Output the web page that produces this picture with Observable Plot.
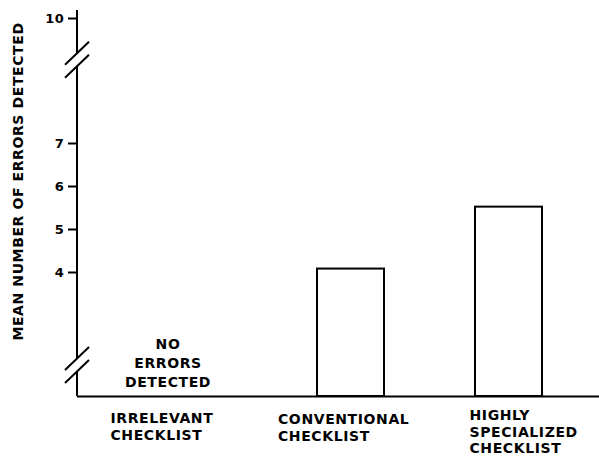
<!DOCTYPE html>
<html><head><meta charset="utf-8">
<script src="https://cdn.jsdelivr.net/npm/d3@7"></script>
<script src="https://cdn.jsdelivr.net/npm/@observablehq/plot@0.6"></script>
<style>body{margin:0;background:#fff;}</style>
</head><body><div id="chart"></div>
<script>
const categories = ["Irrelevant", "Conventional", "Highly specialized"];
const categoryLabels = ["IRRELEVANT\nCHECKLIST", "CONVENTIONAL\nCHECKLIST", "HIGHLY\nSPECIALIZED\nCHECKLIST"];
const meanErrors = [0, 4.08, 5.52];
const yTicks = [4, 5, 6, 7, 10];
const yBreakpoints = [0, 4, 7, 10];
const axisBreaks = [1, 9];
const yLabel = "MEAN NUMBER OF ERRORS DETECTED";
const noErrorsNote = "NO\nERRORS\nDETECTED";

const data = categories.map((c, i) => ({category: c, label: categoryLabels[i], value: meanErrors[i]}));

function brokenAxis(index, scales, values, dimensions) {
  const g = d3.create("svg:g").attr("stroke", "black").attr("fill", "none").attr("stroke-width", 2);
  const x0 = dimensions.marginLeft;
  const y = scales.y;
  const top = y(d3.max(yBreakpoints)) - 8;
  const bottom = y(0);
  const gap = 6.5;
  const bs = axisBreaks.map(v => y(v)).sort((a, b) => a - b);
  let start = top;
  const segs = [];
  for (const b of bs) { segs.push([start, b - gap]); start = b + gap; }
  segs.push([start, bottom]);
  for (const [a, b] of segs) g.append("line").attr("x1", x0).attr("x2", x0).attr("y1", a).attr("y2", b);
  for (const b of bs) for (const o of [-gap, gap]) {
    g.append("line").attr("x1", x0 - 12).attr("y1", b + o + 11.5).attr("x2", x0 + 12).attr("y2", b + o - 11.5);
  }
  return g.node();
}

const textStyle = {fontSize: 14, fontWeight: "bold", fill: "black"};

const chart = Plot.plot({
  width: 599,
  height: 456,
  marginLeft: 77,
  marginRight: 0,
  marginTop: 10,
  marginBottom: 60,
  style: {fontFamily: "DejaVu Sans", letterSpacing: "0.6px", background: "white", color: "black"},
  x: {type: "band", domain: categories, range: [159, 543], paddingInner: 0.574, paddingOuter: 0, axis: null},
  y: {type: "linear", domain: yBreakpoints, range: [396, 272, 143, 18], axis: null},
  marks: [
    Plot.barY(data.filter(d => d.value > 0), {x: "category", y: "value", fill: "white", stroke: "black", strokeWidth: 2}),
    Plot.ruleY([0], {stroke: "black", strokeWidth: 2}),
    brokenAxis,
    Plot.axisY(yTicks, {tickSize: 9, tickPadding: 4, fontSize: 13, fontWeight: "bold", strokeWidth: 2, label: null, fill: "black", stroke: "black"}),
    Plot.text([yLabel], {text: d => d, frameAnchor: "left", textAnchor: "middle", rotate: -90, dx: -59, dy: -22, ...textStyle}),
    Plot.text([data[0]], {x: "category", text: () => noErrorsNote, frameAnchor: "bottom", lineAnchor: "top", textAnchor: "middle", dx: -25, dy: -61, lineHeight: 1.35, ...textStyle}),
    Plot.text([data[0]], {x: "category", text: "label", frameAnchor: "bottom", lineAnchor: "top", textAnchor: "start", dx: -82.5, dy: 15, lineHeight: 1.18, ...textStyle}),
    Plot.text([data[1]], {x: "category", text: "label", frameAnchor: "bottom", lineAnchor: "top", textAnchor: "start", dx: -73, dy: 16, lineHeight: 1.18, ...textStyle}),
    Plot.text([data[2]], {x: "category", text: "label", frameAnchor: "bottom", lineAnchor: "top", textAnchor: "start", dx: -39.5, dy: 12, lineHeight: 1.18, ...textStyle})
  ]
});
document.getElementById("chart").appendChild(chart);
</script>
</body></html>
